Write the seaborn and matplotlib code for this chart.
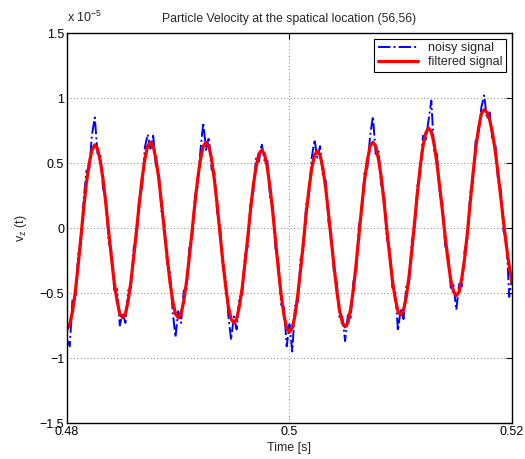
import numpy as np
import pandas as pd
import seaborn as sns
import matplotlib.pyplot as plt

sns.set_theme(style="white")
plt.rcParams['font.family'] = ['Liberation Sans', 'DejaVu Sans']
plt.rcParams['mathtext.fontset'] = 'custom'
plt.rcParams['mathtext.rm'] = 'Liberation Sans'
plt.rcParams['mathtext.it'] = 'Liberation Sans:italic'

# sample times, 0.25 ms step
t = np.linspace(0.48, 0.52, 161)

# values in units of 1e-5
filtered = [
    -0.78, -0.74, -0.64, -0.49, -0.29, -0.07, 0.15, 0.35, 0.50, 0.60,
    0.64, 0.61, 0.51, 0.37, 0.18, -0.03, -0.23, -0.42, -0.56, -0.66,
    -0.69, -0.66, -0.56, -0.41, -0.22, -0.02, 0.19, 0.38, 0.53, 0.63,
    0.66, 0.63, 0.53, 0.38, 0.19, -0.02, -0.22, -0.41, -0.56, -0.66,
    -0.69, -0.66, -0.56, -0.41, -0.22, -0.02, 0.19, 0.38, 0.53, 0.63,
    0.66, 0.63, 0.53, 0.37, 0.18, -0.04, -0.25, -0.44, -0.60, -0.70,
    -0.73, -0.70, -0.60, -0.46, -0.27, -0.07, 0.14, 0.33, 0.47, 0.57,
    0.60, 0.57, 0.47, 0.31, 0.12, -0.10, -0.32, -0.51, -0.67, -0.77,
    -0.80, -0.77, -0.67, -0.51, -0.32, -0.11, 0.11, 0.30, 0.46, 0.56,
    0.59, 0.56, 0.46, 0.31, 0.12, -0.09, -0.29, -0.48, -0.63, -0.73,
    -0.76, -0.73, -0.62, -0.47, -0.27, -0.05, 0.17, 0.37, 0.52, 0.63,
    0.66, 0.63, 0.53, 0.39, 0.20, -0.01, -0.21, -0.40, -0.54, -0.64,
    -0.67, -0.63, -0.53, -0.37, -0.17, 0.05, 0.27, 0.47, 0.63, 0.73,
    0.77, 0.74, 0.65, 0.50, 0.32, 0.13, -0.07, -0.25, -0.40, -0.49,
    -0.52, -0.49, -0.38, -0.23, -0.03, 0.20, 0.42, 0.62, 0.77, 0.88,
    0.91, 0.89, 0.83, 0.73, 0.59, 0.42, 0.23, 0.04, -0.14, -0.29,
    -0.42,
]

noisy = [
    -0.86, -0.91, -0.54, -0.55, -0.21, -0.12, 0.22, 0.44, 0.45, 0.72,
    0.85, 0.57, 0.57, 0.30, 0.23, -0.11, -0.19, -0.48, -0.47, -0.75,
    -0.65, -0.73, -0.48, -0.46, -0.15, -0.08, 0.24, 0.31, 0.62, 0.72,
    0.61, 0.71, 0.47, 0.43, 0.12, 0.04, -0.27, -0.34, -0.64, -0.84,
    -0.64, -0.73, -0.48, -0.47, -0.15, -0.07, 0.25, 0.32, 0.60, 0.81,
    0.60, 0.70, 0.45, 0.43, 0.12, 0.03, -0.30, -0.38, -0.67, -0.86,
    -0.68, -0.78, -0.53, -0.51, -0.21, -0.14, 0.20, 0.28, 0.54, 0.51,
    0.65, 0.52, 0.53, 0.24, 0.17, -0.16, -0.26, -0.59, -0.61, -0.91,
    -0.74, -0.95, -0.60, -0.57, -0.24, -0.17, 0.18, 0.25, 0.54, 0.68,
    0.54, 0.63, 0.40, 0.37, 0.05, -0.04, -0.35, -0.42, -0.70, -0.68,
    -0.87, -0.67, -0.69, -0.41, -0.33, 0.02, 0.12, 0.44, 0.46, 0.71,
    0.86, 0.57, 0.60, 0.33, 0.26, -0.08, -0.16, -0.46, -0.47, -0.79,
    -0.62, -0.70, -0.45, -0.43, -0.10, -0.01, 0.33, 0.42, 0.71, 0.68,
    0.83, 0.98, 0.59, 0.57, 0.26, 0.19, -0.14, -0.19, -0.46, -0.44,
    -0.63, -0.43, -0.45, -0.17, -0.08, 0.27, 0.36, 0.69, 0.72, 0.93,
    1.02, 0.84, 0.89, 0.67, 0.66, 0.36, 0.29, -0.03, -0.08, -0.53,
    -0.39,
]

xticks = [0.48, 0.5, 0.52]
xticklabels = ['0.48', '0.5', '0.52']
yticks = [-1.5, -1, -0.5, 0, 0.5, 1, 1.5]
yticklabels = ['\u22121.5', '\u22121', '\u22120.5', '0', '0.5', '1', '1.5']

df = pd.DataFrame({'t': t, 'noisy': noisy, 'filtered': filtered})

fig = plt.figure(figsize=(5.25, 4.59), dpi=100)
ax = fig.add_axes([0.1276, 0.0784, 0.8476, 0.8497])

sns.lineplot(data=df, x='t', y='noisy', ax=ax, color='blue', linestyle='-.',
             lw=1.4, label='noisy signal')
sns.lineplot(data=df, x='t', y='filtered', ax=ax, color='red', lw=2.3,
             label='filtered signal')

ax.set_xlim(0.48, 0.52)
ax.set_ylim(-1.5, 1.5)
ax.set_xticks(xticks)
ax.set_xticklabels(xticklabels)
ax.set_yticks(yticks)
ax.set_yticklabels(yticklabels)
ax.grid(True, linestyle=(0, (1, 3)), color='0.35', lw=0.6)
ax.tick_params(direction='in', top=True, right=True, length=4, width=0.8,
               labelsize=9, colors='black', pad=2)
for s in ax.spines.values():
    s.set_color('black')
    s.set_linewidth(1.0)

ax.set_title('Particle Velocity at the spatical location (56,56)', fontsize=8.8, pad=8)
ax.set_xlabel('Time [s]', fontsize=9, labelpad=3)
ax.set_ylabel('v$_\\mathrm{z}$ (t)', fontsize=9, labelpad=8)
fig.text(67 / 525, 1 - 22 / 459, 'x 10$^{\\mathrm{-5}}$', fontsize=9, ha='left', va='baseline')

leg = ax.legend(loc='upper right', fontsize=9, frameon=True, fancybox=False,
                edgecolor='black', framealpha=1, handlelength=3.2,
                borderaxespad=0.45, borderpad=0.3, labelspacing=0.15)
leg.get_frame().set_linewidth(0.8)

fig.savefig('out.png', dpi=100)
